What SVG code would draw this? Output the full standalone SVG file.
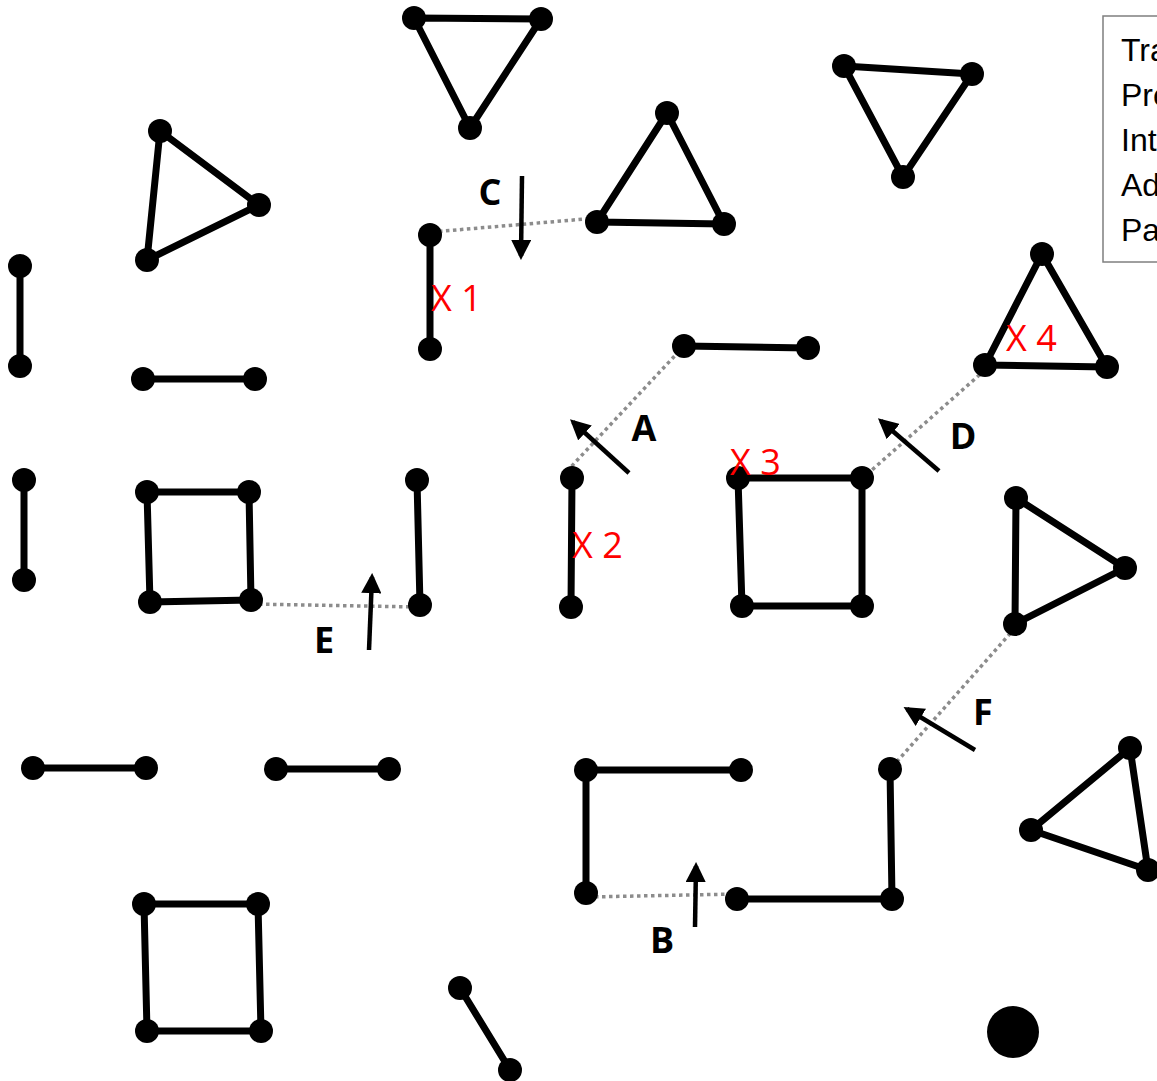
<svg xmlns="http://www.w3.org/2000/svg" width="1157" height="1081" viewBox="0 0 1157 1081">
<defs>
<style>
.e{stroke:#000;stroke-width:7;fill:none;stroke-linecap:round;stroke-linejoin:round}
.n{fill:#000}
.dot{stroke:#8c8c8c;stroke-width:3.5;stroke-dasharray:3.5 3.5;fill:none}
.arr{stroke:#000;stroke-width:4.5;fill:none;marker-end:url(#ah)}
.lbl{font-family:"Open Sans","Liberation Sans",sans-serif;font-weight:bold;font-size:36px;fill:#000;text-anchor:middle}
.x{font-family:"Open Sans","Liberation Sans",sans-serif;font-size:36px;fill:#ff0000}
.lg{font-family:"Liberation Sans",Arial,sans-serif;font-size:32px;fill:#000}
</style>
<marker id="ah" viewBox="0 0 10 10" refX="8" refY="5" markerWidth="4.5" markerHeight="4.5" orient="auto" markerUnits="strokeWidth">
<path d="M0,0 L10,5 L0,10 z" fill="#000"/>
</marker>
</defs>
<rect width="1157" height="1081" fill="#fff"/>

<g id="legend">
<rect x="1103" y="16" width="80" height="246" fill="#fff" stroke="#7f7f7f" stroke-width="1.5"/>
<text class="lg" x="1121" y="61">Tra</text>
<text class="lg" x="1121" y="106">Pre</text>
<text class="lg" x="1121" y="151">Inte</text>
<text class="lg" x="1121" y="196">Ad</text>
<text class="lg" x="1121" y="241">Pa</text>
</g>

<g id="connectors">
<line class="dot" x1="432" y1="232" x2="597" y2="218"/>
<line class="dot" x1="684" y1="346" x2="568" y2="470"/>
<line class="dot" x1="985" y1="370" x2="864" y2="477"/>
<line class="dot" x1="252" y1="604" x2="418" y2="607"/>
<line class="dot" x1="588" y1="897" x2="737" y2="894"/>
<line class="dot" x1="1015" y1="628" x2="893" y2="766"/>
<line class="arr" x1="522" y1="176" x2="521" y2="256"/>
<line class="arr" x1="629" y1="473" x2="573" y2="422"/>
<line class="arr" x1="939" y1="471" x2="881" y2="421"/>
<line class="arr" x1="369" y1="650" x2="372" y2="577"/>
<line class="arr" x1="695" y1="927" x2="696" y2="866"/>
<line class="arr" x1="975" y1="750" x2="907" y2="709"/>
</g>

<g id="labels">
<text class="lbl" x="490" y="205">C</text>
<text class="lbl" x="644" y="441">A</text>
<text class="lbl" x="963" y="449">D</text>
<text class="lbl" x="324" y="653">E</text>
<text class="lbl" x="662" y="953">B</text>
<text class="lbl" x="983" y="725">F</text>
</g>

<g id="tri-top">
<polygon class="e" points="414,18 541,19 470,128"/>
<circle class="n" cx="414" cy="18" r="12"/><circle class="n" cx="541" cy="19" r="12"/><circle class="n" cx="470" cy="128" r="12"/>
</g>
<g id="tri-topleft">
<polygon class="e" points="160,131 259,205 147,260"/>
<circle class="n" cx="160" cy="131" r="12"/><circle class="n" cx="259" cy="205" r="12"/><circle class="n" cx="147" cy="260" r="12"/>
</g>
<g id="tri-topright">
<polygon class="e" points="844,66 972,74 903,177"/>
<circle class="n" cx="844" cy="66" r="12"/><circle class="n" cx="972" cy="74" r="12"/><circle class="n" cx="903" cy="177" r="12"/>
</g>
<g id="tri-c">
<polygon class="e" points="667,113 724,224 597,222"/>
<circle class="n" cx="667" cy="113" r="12"/><circle class="n" cx="724" cy="224" r="12"/><circle class="n" cx="597" cy="222" r="12"/>
</g>
<g id="tri-x4">
<polygon class="e" points="1042,254 1107,367 985,365"/>
<circle class="n" cx="1042" cy="254" r="12"/><circle class="n" cx="1107" cy="367" r="12"/><circle class="n" cx="985" cy="365" r="12"/>
<text class="x" x="1006" y="351">X 4</text>
</g>
<g id="tri-right">
<polygon class="e" points="1016,498 1125,568 1015,624"/>
<circle class="n" cx="1016" cy="498" r="12"/><circle class="n" cx="1125" cy="568" r="12"/><circle class="n" cx="1015" cy="624" r="12"/>
</g>
<g id="tri-bottomright">
<polygon class="e" points="1130,748 1148,870 1031,830"/>
<circle class="n" cx="1130" cy="748" r="12"/><circle class="n" cx="1148" cy="870" r="12"/><circle class="n" cx="1031" cy="830" r="12"/>
</g>

<g id="seg-1">
<line class="e" x1="20" y1="266" x2="20" y2="366"/>
<circle class="n" cx="20" cy="266" r="12"/><circle class="n" cx="20" cy="366" r="12"/>
</g>
<g id="seg-2">
<line class="e" x1="143" y1="379" x2="255" y2="379"/>
<circle class="n" cx="143" cy="379" r="12"/><circle class="n" cx="255" cy="379" r="12"/>
</g>
<g id="seg-x1">
<line class="e" x1="430" y1="235" x2="430" y2="349"/>
<circle class="n" cx="430" cy="235" r="12"/><circle class="n" cx="430" cy="349" r="12"/>
<text class="x" x="431" y="311">X 1</text>
</g>
<g id="seg-a">
<line class="e" x1="684" y1="346" x2="808" y2="348"/>
<circle class="n" cx="684" cy="346" r="12"/><circle class="n" cx="808" cy="348" r="12"/>
</g>
<g id="seg-3">
<line class="e" x1="24" y1="480" x2="24" y2="580"/>
<circle class="n" cx="24" cy="480" r="12"/><circle class="n" cx="24" cy="580" r="12"/>
</g>
<g id="sq-1">
<polygon class="e" points="147,492 249,492 251,600 150,602"/>
<circle class="n" cx="147" cy="492" r="12"/><circle class="n" cx="249" cy="492" r="12"/><circle class="n" cx="251" cy="600" r="12"/><circle class="n" cx="150" cy="602" r="12"/>
</g>
<g id="seg-e">
<line class="e" x1="417" y1="480" x2="420" y2="605"/>
<circle class="n" cx="417" cy="480" r="12"/><circle class="n" cx="420" cy="605" r="12"/>
</g>
<g id="seg-x2">
<line class="e" x1="572" y1="478" x2="571" y2="607"/>
<circle class="n" cx="572" cy="478" r="12"/><circle class="n" cx="571" cy="607" r="12"/>
<text class="x" x="572" y="558">X 2</text>
</g>
<g id="sq-x3">
<polygon class="e" points="738,478 862,478 862,606 742,606"/>
<circle class="n" cx="738" cy="478" r="12"/><circle class="n" cx="862" cy="478" r="12"/><circle class="n" cx="862" cy="606" r="12"/><circle class="n" cx="742" cy="606" r="12"/>
<text class="x" x="730" y="475">X 3</text>
</g>
<g id="seg-4">
<line class="e" x1="33" y1="768" x2="146" y2="768"/>
<circle class="n" cx="33" cy="768" r="12"/><circle class="n" cx="146" cy="768" r="12"/>
</g>
<g id="seg-5">
<line class="e" x1="276" y1="769" x2="389" y2="769"/>
<circle class="n" cx="276" cy="769" r="12"/><circle class="n" cx="389" cy="769" r="12"/>
</g>
<g id="open-1">
<polyline class="e" points="741,770 586,770 586,893"/>
<circle class="n" cx="741" cy="770" r="12"/><circle class="n" cx="586" cy="770" r="12"/><circle class="n" cx="586" cy="893" r="12"/>
</g>
<g id="open-2">
<polyline class="e" points="737,899 892,899 890,769"/>
<circle class="n" cx="737" cy="899" r="12"/><circle class="n" cx="892" cy="899" r="12"/><circle class="n" cx="890" cy="769" r="12"/>
</g>
<g id="sq-2">
<polygon class="e" points="144,904 258,904 261,1031 147,1031"/>
<circle class="n" cx="144" cy="904" r="12"/><circle class="n" cx="258" cy="904" r="12"/><circle class="n" cx="261" cy="1031" r="12"/><circle class="n" cx="147" cy="1031" r="12"/>
</g>
<g id="seg-diag">
<line class="e" x1="460" y1="988" x2="510" y2="1070"/>
<circle class="n" cx="460" cy="988" r="12"/><circle class="n" cx="510" cy="1070" r="12"/>
</g>
<g id="big-dot">
<circle class="n" cx="1013" cy="1032" r="26"/>
</g>
</svg>
